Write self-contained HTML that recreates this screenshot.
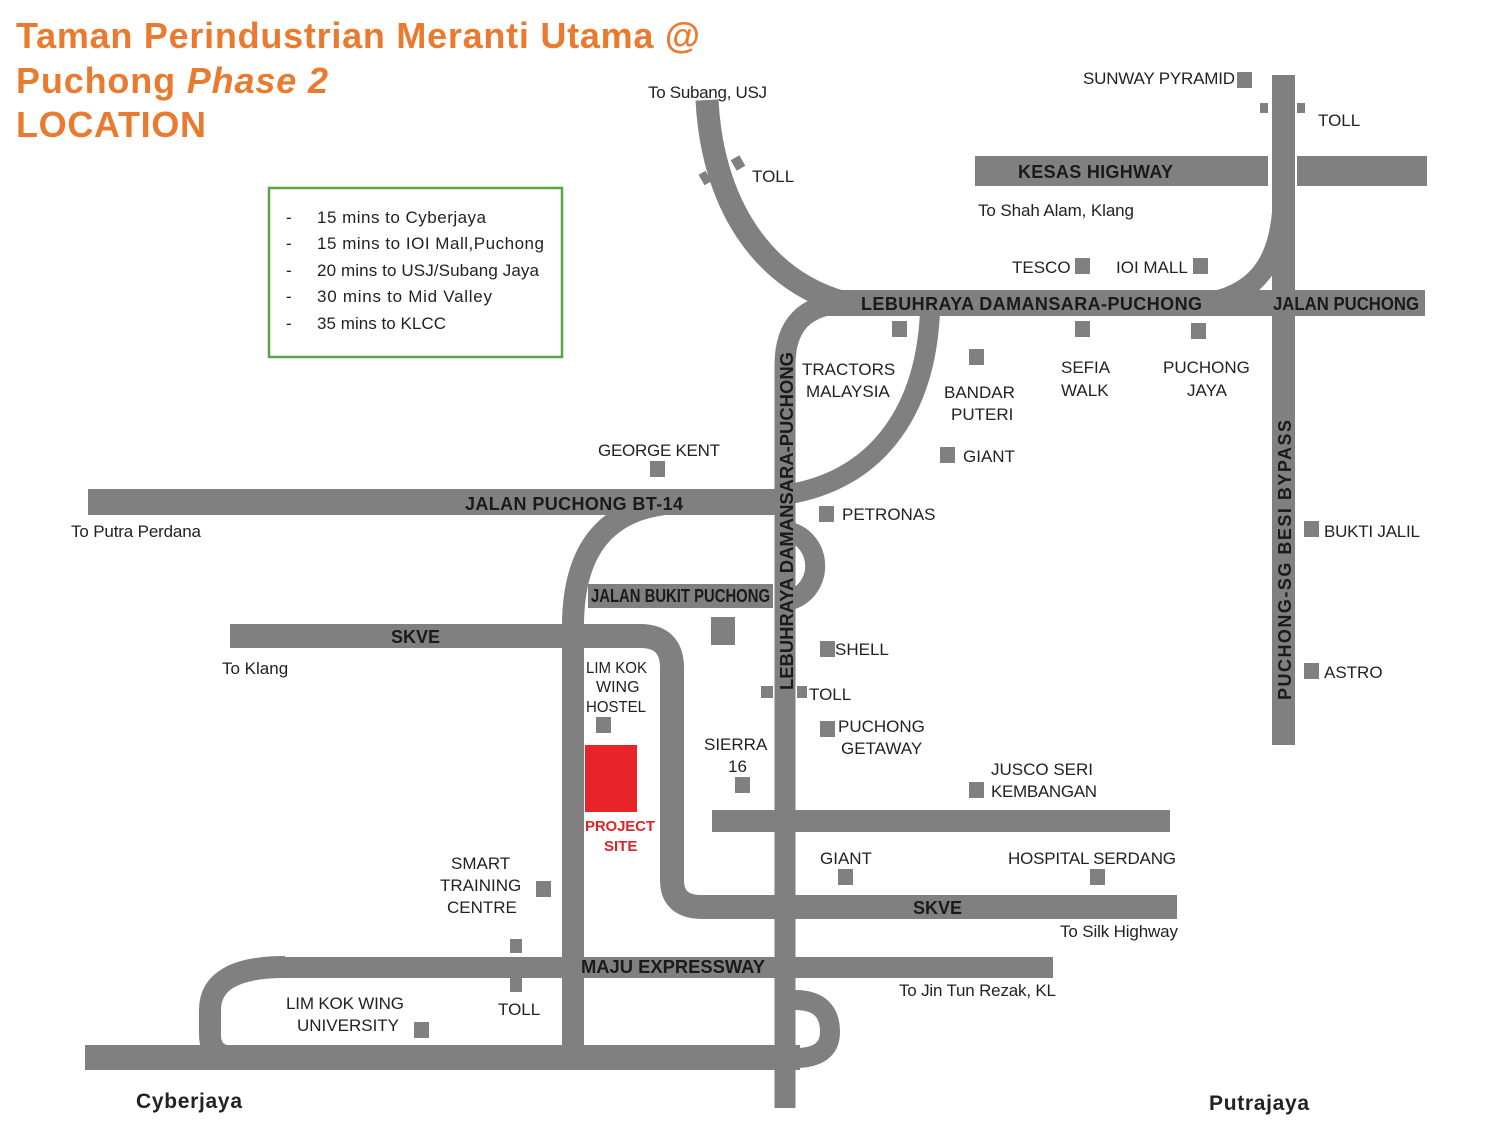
<!DOCTYPE html>
<html><head><meta charset="utf-8"><style>
html,body{margin:0;padding:0;background:#fff;}
svg{display:block}
text{font-family:"Liberation Sans",Arial,sans-serif;fill:#222;}
.l{font-size:17px}
.b{font-size:18px;font-weight:bold;fill:#1a1a1a}
</style></head><body>
<svg width="1500" height="1125" viewBox="0 0 1500 1125" xmlns="http://www.w3.org/2000/svg">
<rect width="1500" height="1125" fill="#fff"/>
<g fill="none" stroke="#808080" stroke-linecap="butt">
 <path d="M707,100 C712,200 760,280 845,303" stroke-width="23"/>
 <path d="M1283,190 C1283,255 1262,292 1210,302" stroke-width="20"/>
 <path d="M785,1108 L785,365 Q785,305 845,303" stroke-width="21"/>
 <path d="M930,312 C925,420 870,480 790,494" stroke-width="20"/>
 <path d="M665,504 Q575,515 573,622 L573,1050" stroke-width="22"/>
 <path d="M790,532 A33,35 0 0 1 790,600" stroke-width="20"/>
 <path d="M230,636 L640,636 Q672,636 672,668 L672,880 Q672,907 702,907 L1177,907" stroke-width="24"/>
 <path d="M285,967 Q210,967 210,1010 L210,1035 Q210,1057 235,1057" stroke-width="22"/>
 <path d="M795,1000 Q830,1000 830,1032 Q830,1058 795,1058" stroke-width="20"/>
</g>
<g fill="#808080">
 <rect x="1272" y="75" width="23" height="670"/>
 <rect x="975" y="156" width="293" height="30"/>
 <rect x="1297" y="156" width="130" height="30"/>
 <rect x="820" y="290" width="605" height="26"/>
 <rect x="88" y="489" width="697" height="26"/>
 <rect x="588" y="584" width="185" height="24"/>
 <rect x="712" y="810" width="458" height="22"/>
 <rect x="280" y="957" width="773" height="21"/>
 <rect x="85" y="1045" width="715" height="25"/>
 <rect x="1237" y="72" width="15" height="16"/>
 <rect x="1260" y="103" width="8" height="10"/>
 <rect x="1297" y="103" width="8" height="10"/>
 <rect x="733" y="157" width="10" height="12" transform="rotate(-30 738 163)"/>
 <rect x="701" y="172" width="8" height="12" transform="rotate(-30 705 178)"/>
 <rect x="1075" y="258" width="15" height="16"/>
 <rect x="1193" y="258" width="15" height="16"/>
 <rect x="892" y="321" width="15" height="16"/>
 <rect x="1075" y="321" width="15" height="16"/>
 <rect x="1191" y="323" width="15" height="16"/>
 <rect x="969" y="349" width="15" height="16"/>
 <rect x="940" y="447" width="15" height="16"/>
 <rect x="650" y="461" width="15" height="16"/>
 <rect x="819" y="506" width="15" height="16"/>
 <rect x="1304" y="521" width="15" height="16"/>
 <rect x="711" y="617" width="24" height="28"/>
 <rect x="820" y="641" width="15" height="16"/>
 <rect x="1304" y="663" width="15" height="16"/>
 <rect x="761" y="686" width="12" height="12"/>
 <rect x="797" y="686" width="10" height="12"/>
 <rect x="596" y="717" width="15" height="16"/>
 <rect x="820" y="721" width="15" height="16"/>
 <rect x="735" y="777" width="15" height="16"/>
 <rect x="969" y="782" width="15" height="16"/>
 <rect x="838" y="869" width="15" height="16"/>
 <rect x="1090" y="869" width="15" height="16"/>
 <rect x="536" y="881" width="15" height="16"/>
 <rect x="510" y="939" width="12" height="14"/>
 <rect x="510" y="978" width="12" height="14"/>
 <rect x="414" y="1022" width="15" height="16"/>
</g>
<rect x="585" y="745" width="52" height="67" fill="#e8232a"/>
<rect x="269" y="188" width="293" height="169" fill="none" stroke="#5aa546" stroke-width="2.5"/>
<g font-size="17" fill="#333">
 <text x="286" y="223" class="l">-</text><text x="317" y="223" class="l" textLength="169">15 mins to Cyberjaya</text>
 <text x="286" y="249" class="l">-</text><text x="317" y="249" class="l" textLength="227">15 mins to IOI Mall,Puchong</text>
 <text x="286" y="276" class="l">-</text><text x="317" y="276" class="l" textLength="222">20 mins to USJ/Subang Jaya</text>
 <text x="286" y="302" class="l">-</text><text x="317" y="302" class="l" textLength="175">30 mins to Mid Valley</text>
 <text x="286" y="329" class="l">-</text><text x="317" y="329" class="l" textLength="129">35 mins to KLCC</text>
</g>
<g font-weight="bold" font-size="36">
 <text x="16" y="48" style="fill:#e87b2f" textLength="684">Taman Perindustrian Meranti Utama @</text>
 <text x="16" y="93" style="fill:#e87b2f" textLength="312">Puchong <tspan font-style="italic">Phase 2</tspan></text>
 <text x="16" y="137" style="fill:#e87b2f" textLength="190">LOCATION</text>
</g>
<g class="l">
 <text x="648" y="98" class="l" textLength="119">To Subang, USJ</text>
 <text x="1083" y="84" class="l" textLength="152">SUNWAY PYRAMID</text>
 <text x="1318" y="126" class="l">TOLL</text>
 <text x="752" y="182" class="l">TOLL</text>
 <text x="978" y="216" class="l" textLength="156">To Shah Alam, Klang</text>
 <text x="1012" y="273" class="l">TESCO</text>
 <text x="1116" y="273" class="l">IOI MALL</text>
 <text x="802" y="375" class="l">TRACTORS</text>
 <text x="806" y="397" class="l">MALAYSIA</text>
 <text x="944" y="398" class="l">BANDAR</text>
 <text x="951" y="420" class="l">PUTERI</text>
 <text x="1061" y="373" class="l">SEFIA</text>
 <text x="1061" y="396" class="l">WALK</text>
 <text x="1163" y="373" class="l">PUCHONG</text>
 <text x="1187" y="396" class="l">JAYA</text>
 <text x="963" y="462" class="l">GIANT</text>
 <text x="598" y="456" class="l" textLength="122">GEORGE KENT</text>
 <text x="842" y="520" class="l">PETRONAS</text>
 <text x="71" y="537" class="l" textLength="130">To Putra Perdana</text>
 <text x="1324" y="537" class="l" textLength="96">BUKTI JALIL</text>
 <text x="222" y="674" class="l">To Klang</text>
 <text x="835" y="655" class="l">SHELL</text>
 <text x="1324" y="678" class="l">ASTRO</text>
 <text x="586" y="673" font-size="16" textLength="61" lengthAdjust="spacingAndGlyphs">LIM KOK</text>
 <text x="596" y="692" font-size="16">WING</text>
 <text x="586" y="712" font-size="16" textLength="60" lengthAdjust="spacingAndGlyphs">HOSTEL</text>
 <text x="809" y="700" class="l">TOLL</text>
 <text x="838" y="732" class="l">PUCHONG</text>
 <text x="841" y="754" class="l">GETAWAY</text>
 <text x="704" y="750" class="l">SIERRA</text>
 <text x="728" y="772" class="l">16</text>
 <text x="991" y="775" class="l">JUSCO SERI</text>
 <text x="991" y="797" class="l" textLength="106">KEMBANGAN</text>
 <text x="585" y="831" font-size="15" font-weight="bold" style="fill:#d9262c" textLength="70">PROJECT</text>
 <text x="604" y="851" font-size="15" font-weight="bold" style="fill:#d9262c">SITE</text>
 <text x="820" y="864" class="l">GIANT</text>
 <text x="1008" y="864" class="l" textLength="168">HOSPITAL SERDANG</text>
 <text x="451" y="869" class="l">SMART</text>
 <text x="440" y="891" class="l">TRAINING</text>
 <text x="447" y="913" class="l">CENTRE</text>
 <text x="1060" y="937" class="l" textLength="118">To Silk Highway</text>
 <text x="899" y="996" class="l" textLength="157">To Jin Tun Rezak, KL</text>
 <text x="286" y="1009" class="l" textLength="118">LIM KOK WING</text>
 <text x="297" y="1031" class="l">UNIVERSITY</text>
 <text x="498" y="1015" class="l">TOLL</text>
 <text x="136" y="1108" font-size="21" font-weight="bold" textLength="106">Cyberjaya</text>
 <text x="1209" y="1110" font-size="21" font-weight="bold" textLength="100">Putrajaya</text>
</g>
<g class="b">
 <text x="1018" y="178" class="b" textLength="155">KESAS HIGHWAY</text>
 <text x="861" y="310" class="b" textLength="341">LEBUHRAYA DAMANSARA-PUCHONG</text>
 <text x="1273" y="310" class="b" font-size="17" textLength="146" lengthAdjust="spacingAndGlyphs">JALAN PUCHONG</text>
 <text x="465" y="510" class="b" textLength="218">JALAN PUCHONG BT-14</text>
 <text x="591" y="602" class="b" font-size="15" textLength="179" lengthAdjust="spacingAndGlyphs">JALAN BUKIT PUCHONG</text>
 <text x="391" y="643" class="b">SKVE</text>
 <text x="913" y="914" class="b">SKVE</text>
 <text x="581" y="973" class="b" font-size="17" textLength="184" lengthAdjust="spacingAndGlyphs">MAJU EXPRESSWAY</text>
 <text transform="translate(793,690) rotate(-90)" class="b" font-size="16" textLength="338" lengthAdjust="spacingAndGlyphs">LEBUHRAYA DAMANSARA-PUCHONG</text>
 <text transform="translate(1291,700) rotate(-90)" class="b" font-size="17" textLength="280">PUCHONG-SG BESI BYPASS</text>
</g>
</svg>
</body></html>
